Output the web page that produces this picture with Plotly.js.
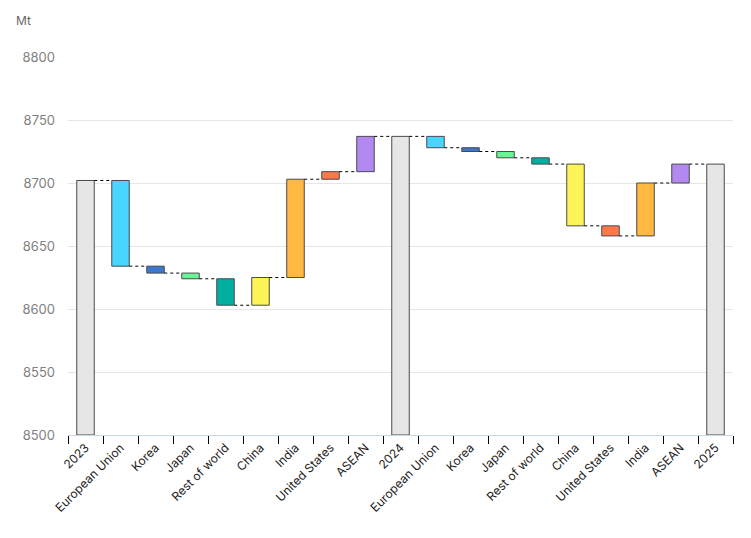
<!DOCTYPE html>
<html>
<head>
<meta charset="utf-8">
<script src="https://cdn.plot.ly/plotly-3.0.1.min.js"></script>
<style>html,body{margin:0;padding:0;background:#fff;}#chart{width:751px;height:538px;}</style>
</head>
<body>
<div id="chart"></div>
<script>
// Data (Mt)
var categories = ["2023","European Union","Korea","Japan","Rest of world","China","India","United States","ASEAN",
                  "2024","European Union","Korea","Japan","Rest of world","China","United States","India","ASEAN","2025"];
var kinds = ["total","delta","delta","delta","delta","delta","delta","delta","delta",
             "total","delta","delta","delta","delta","delta","delta","delta","delta","total"];
var values = [8702, -68, -5.5, -4.5, -21, 22, 78, 6, 28,
              8737, -9, -3, -5, -5, -49, -8, 42, 15, 8715];
var colors = ["#e6e6e6","#48d5ff","#3c77d1","#6af594","#00afa0","#fff457","#ffb842","#ff784c","#b388f0",
              "#e6e6e6","#48d5ff","#3c77d1","#6af594","#00afa0","#fff457","#ff784c","#ffb842","#b388f0","#e6e6e6"];
var axisMin = 8500;

var idx = [], base = [], heights = [], levels = [];
var running = 0;
for (var i = 0; i < values.length; i++) {
  idx.push(i);
  if (kinds[i] === "total") {
    running = values[i];
    base.push(axisMin);
    heights.push(values[i] - axisMin);
  } else {
    var prev = running;
    running = running + values[i];
    base.push(Math.min(prev, running));
    heights.push(Math.abs(values[i]));
  }
  levels.push(running);
}

var cx = [], cy = [];
for (var j = 0; j < values.length - 1; j++) {
  cx.push(j + 0.25, j + 0.75, null);
  cy.push(levels[j], levels[j], null);
}

var bars = {
  type: "bar", x: idx, y: heights, base: base, width: 0.5,
  marker: {color: colors, line: {color: "#4a4a4a", width: 1}},
  hoverinfo: "skip", showlegend: false
};
var connectors = {
  type: "scatter", mode: "lines", x: cx, y: cy, xaxis: "x2", yaxis: "y",
  line: {color: "#000", width: 1, dash: "dot"}, hoverinfo: "skip", showlegend: false
};

var tickBounds = [];
for (var k = 0; k <= categories.length; k++) tickBounds.push(k - 0.5);

var layout = {
  width: 751, height: 538,
  margin: {l: 68, r: 18, t: 57, b: 103},
  paper_bgcolor: "#fff", plot_bgcolor: "#fff",
  font: {family: "Inter, 'Noto Sans', sans-serif", color: "#222"},
  xaxis: {
    type: "linear", range: [-0.5, categories.length - 0.5],
    tickmode: "array", tickvals: idx, ticktext: categories,
    tickangle: -45, ticks: "", showgrid: false, zeroline: false,
    showline: true, linecolor: "#ccd6eb", linewidth: 1,
    tickfont: {size: 12, color: "#222"}, fixedrange: true
  },
  xaxis2: {
    type: "linear", overlaying: "x", anchor: "y", side: "bottom",
    range: [-0.5, categories.length - 0.5],
    tickmode: "array", tickvals: tickBounds, showticklabels: false,
    ticks: "outside", ticklen: 8, tickwidth: 1, tickcolor: "#000",
    showgrid: false, zeroline: false, showline: false
  },
  yaxis: {
    range: [8500, 8800], tickmode: "linear", tick0: 8500, dtick: 50,
    showgrid: true, gridcolor: "#e6e6e6", gridwidth: 1, zeroline: false,
    ticks: "", ticklabelstandoff: 12,
    tickfont: {size: 13, color: "#7f7f7f"}, fixedrange: true
  },
  annotations: [{
    text: "Mt", xref: "paper", yref: "paper",
    x: (14 - 68) / 665, y: (435 - 21) / 378, xanchor: "left", yanchor: "middle",
    showarrow: false, font: {size: 12, color: "#666"}
  }]
};

Plotly.newPlot("chart", [bars, connectors], layout, {displayModeBar: false, staticPlot: true});
</script>
</body>
</html>
